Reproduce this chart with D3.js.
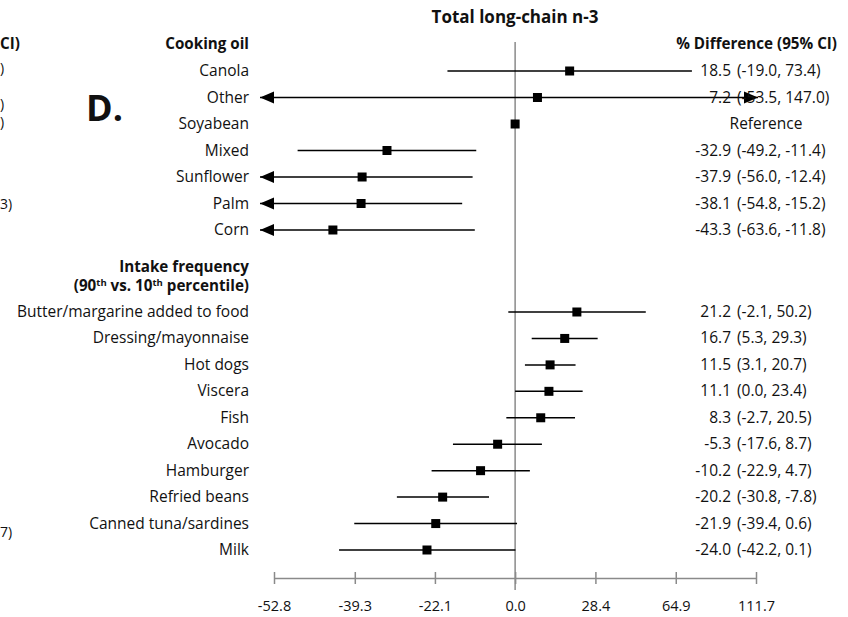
<!DOCTYPE html>
<html>
<head>
<meta charset="utf-8">
<script src="https://cdn.jsdelivr.net/npm/d3@7"></script>
<style>
  body { margin: 0; background: #fff; }
  svg text { font-family: "Open Sans", sans-serif; fill: #111; }
</style>
</head>
<body>
<div id="chart"></div>
<script>
// cooking oil group
const oilNames = ['Canola', 'Other', 'Soyabean', 'Mixed', 'Sunflower', 'Palm', 'Corn'];
const oilEst = [18.5, 7.2, 0, -32.9, -37.9, -38.1, -43.3];
const oilLo = [-19.0, -53.5, null, -49.2, -56.0, -54.8, -63.6];
const oilHi = [73.4, 147.0, null, -11.4, -12.4, -15.2, -11.8];

// intake frequency group
const foodNames = ['Butter/margarine added to food', 'Dressing/mayonnaise', 'Hot dogs', 'Viscera',
  'Fish', 'Avocado', 'Hamburger', 'Refried beans', 'Canned tuna/sardines', 'Milk'];
const foodEst = [21.2, 16.7, 11.5, 11.1, 8.3, -5.3, -10.2, -20.2, -21.9, -24.0];
const foodLo = [-2.1, 5.3, 3.1, 0.0, -2.7, -17.6, -22.9, -30.8, -39.4, -42.2];
const foodHi = [50.2, 29.3, 20.7, 23.4, 20.5, 8.7, 4.7, -7.8, 0.6, 0.1];

const tickVals = [-52.8, -39.3, -22.1, 0.0, 28.4, 64.9, 111.7];

const width = 848, height = 617;
const gray = '#8a8a8a';
const labelX = 249, numX = 731, ciX = 737;
const fs = '15.5px', fsBold = '15.2px';

const svg = d3.select('#chart').append('svg')
  .attr('width', width).attr('height', height);

// % difference on a log-ratio scale
const x = d3.scaleLog()
  .domain([1 + tickVals[0] / 100, 1 + tickVals[tickVals.length - 1] / 100])
  .range([274, 756]);
const px = v => x(1 + v / 100);
const minX = 260, maxX = 758; // arrow tips when CI runs past the axis

const oilY = d3.scalePoint().domain(oilNames).range([71, 230]);
const foodY = d3.scalePoint().domain(foodNames).range([312, 550]);

const rows = [];
oilNames.forEach((n, i) => rows.push({name: n, y: oilY(n), est: oilEst[i], lo: oilLo[i], hi: oilHi[i]}));
foodNames.forEach((n, i) => rows.push({name: n, y: foodY(n), est: foodEst[i], lo: foodLo[i], hi: foodHi[i]}));

// title + headers
svg.append('text').attr('x', 515).attr('y', 23).attr('text-anchor', 'middle')
  .style('font-weight', 'bold').style('font-size', '17px').text('Total long-chain n-3');
svg.append('text').attr('x', labelX).attr('y', 49).attr('text-anchor', 'end')
  .style('font-weight', 'bold').style('font-size', fsBold).text('Cooking oil');
svg.append('text').attr('x', 837).attr('y', 49).attr('text-anchor', 'end')
  .style('font-weight', 'bold').style('font-size', fsBold).text('% Difference (95% CI)');
svg.append('text').attr('x', 86).attr('y', 121)
  .style('font-weight', 'bold').style('font-size', '36px').text('D.');

svg.append('text').attr('x', labelX).attr('y', 272).attr('text-anchor', 'end')
  .style('font-weight', 'bold').style('font-size', fsBold).text('Intake frequency');
const h2 = svg.append('text').attr('x', labelX).attr('y', 291).attr('text-anchor', 'end')
  .style('font-weight', 'bold').style('font-size', fsBold);
h2.append('tspan').text('(90');
h2.append('tspan').attr('dy', -5).style('font-size', '9.5px').text('th');
h2.append('tspan').attr('dy', 5).text(' vs. 10');
h2.append('tspan').attr('dy', -5).style('font-size', '9.5px').text('th');
h2.append('tspan').attr('dy', 5).text(' percentile)');

// fragments of the neighbouring panel at the left edge
const frag = [['CI)', 49, true], [')', 73, false], [')', 109, false],
  [')', 127, false], ['3)', 209, false], ['7)', 537, false]];
svg.selectAll('.frag').data(frag).join('text').attr('class', 'frag')
  .attr('x', 0).attr('y', d => d[1])
  .style('font-size', d => d[2] ? fsBold : '14px').style('font-weight', d => d[2] ? 'bold' : 'normal')
  .text(d => d[0]);

// zero line
svg.append('line').attr('x1', px(0)).attr('x2', px(0)).attr('y1', 42).attr('y2', 590)
  .attr('stroke', gray).attr('stroke-width', 1.5);

// axis
const axis = svg.append('g').attr('transform', 'translate(0,578)')
  .call(d3.axisBottom(x).tickValues(tickVals.map(v => 1 + v / 100))
    .tickFormat((d, i) => tickVals[i].toFixed(1)).tickSizeOuter(0).tickPadding(17));
axis.select('.domain').attr('stroke', gray).attr('stroke-width', 1.5);
axis.selectAll('.tick line').attr('y1', -6).attr('y2', 6).attr('stroke', gray).attr('stroke-width', 1.5);
axis.selectAll('.tick text').style('font-size', '14.5px').style('font-family', '"Open Sans", sans-serif').attr('fill', '#111');

// row labels
svg.selectAll('.lab').data(rows).join('text').attr('class', 'lab')
  .attr('x', labelX).attr('y', d => d.y + 5).attr('text-anchor', 'end')
  .style('font-size', fs).text(d => d.name);

// CI lines
const ci = rows.filter(d => d.lo !== null);
const offL = d => px(d.lo) < x.range()[0];
const offR = d => px(d.hi) > x.range()[1];
svg.selectAll('.ci').data(ci).join('line').attr('class', 'ci')
  .attr('x1', d => offL(d) ? minX : px(d.lo)).attr('x2', d => offR(d) ? maxX : px(d.hi))
  .attr('y1', d => d.y).attr('y2', d => d.y)
  .attr('stroke', '#000').attr('stroke-width', 1.5);

// arrows for truncated CIs
svg.selectAll('.arL').data(ci.filter(offL)).join('path').attr('class', 'arL')
  .attr('d', d => `M${minX},${d.y} l14,-6 l0,12 Z`).attr('fill', '#000');
svg.selectAll('.arR').data(ci.filter(offR)).join('path').attr('class', 'arR')
  .attr('d', d => `M${maxX},${d.y} l-14,-6 l0,12 Z`).attr('fill', '#000');

// point estimates
svg.selectAll('.pt').data(rows).join('rect').attr('class', 'pt')
  .attr('x', d => px(d.est) - 4.5).attr('y', d => d.y - 4.5)
  .attr('width', 9).attr('height', 9).attr('fill', '#000');

// estimate text
svg.selectAll('.num').data(ci).join('text').attr('class', 'num')
  .attr('x', numX).attr('y', d => d.y + 5).attr('text-anchor', 'end')
  .style('font-size', fs).text(d => d.est.toFixed(1));
svg.selectAll('.cit').data(ci).join('text').attr('class', 'cit')
  .attr('x', ciX).attr('y', d => d.y + 5)
  .style('font-size', fs).text(d => `(${d.lo.toFixed(1)}, ${d.hi.toFixed(1)})`);
svg.selectAll('.ref').data(rows.filter(d => d.lo === null)).join('text').attr('class', 'ref')
  .attr('x', 766).attr('y', d => d.y + 5).attr('text-anchor', 'middle')
  .style('font-size', fs).text('Reference');
</script>
</body>
</html>
